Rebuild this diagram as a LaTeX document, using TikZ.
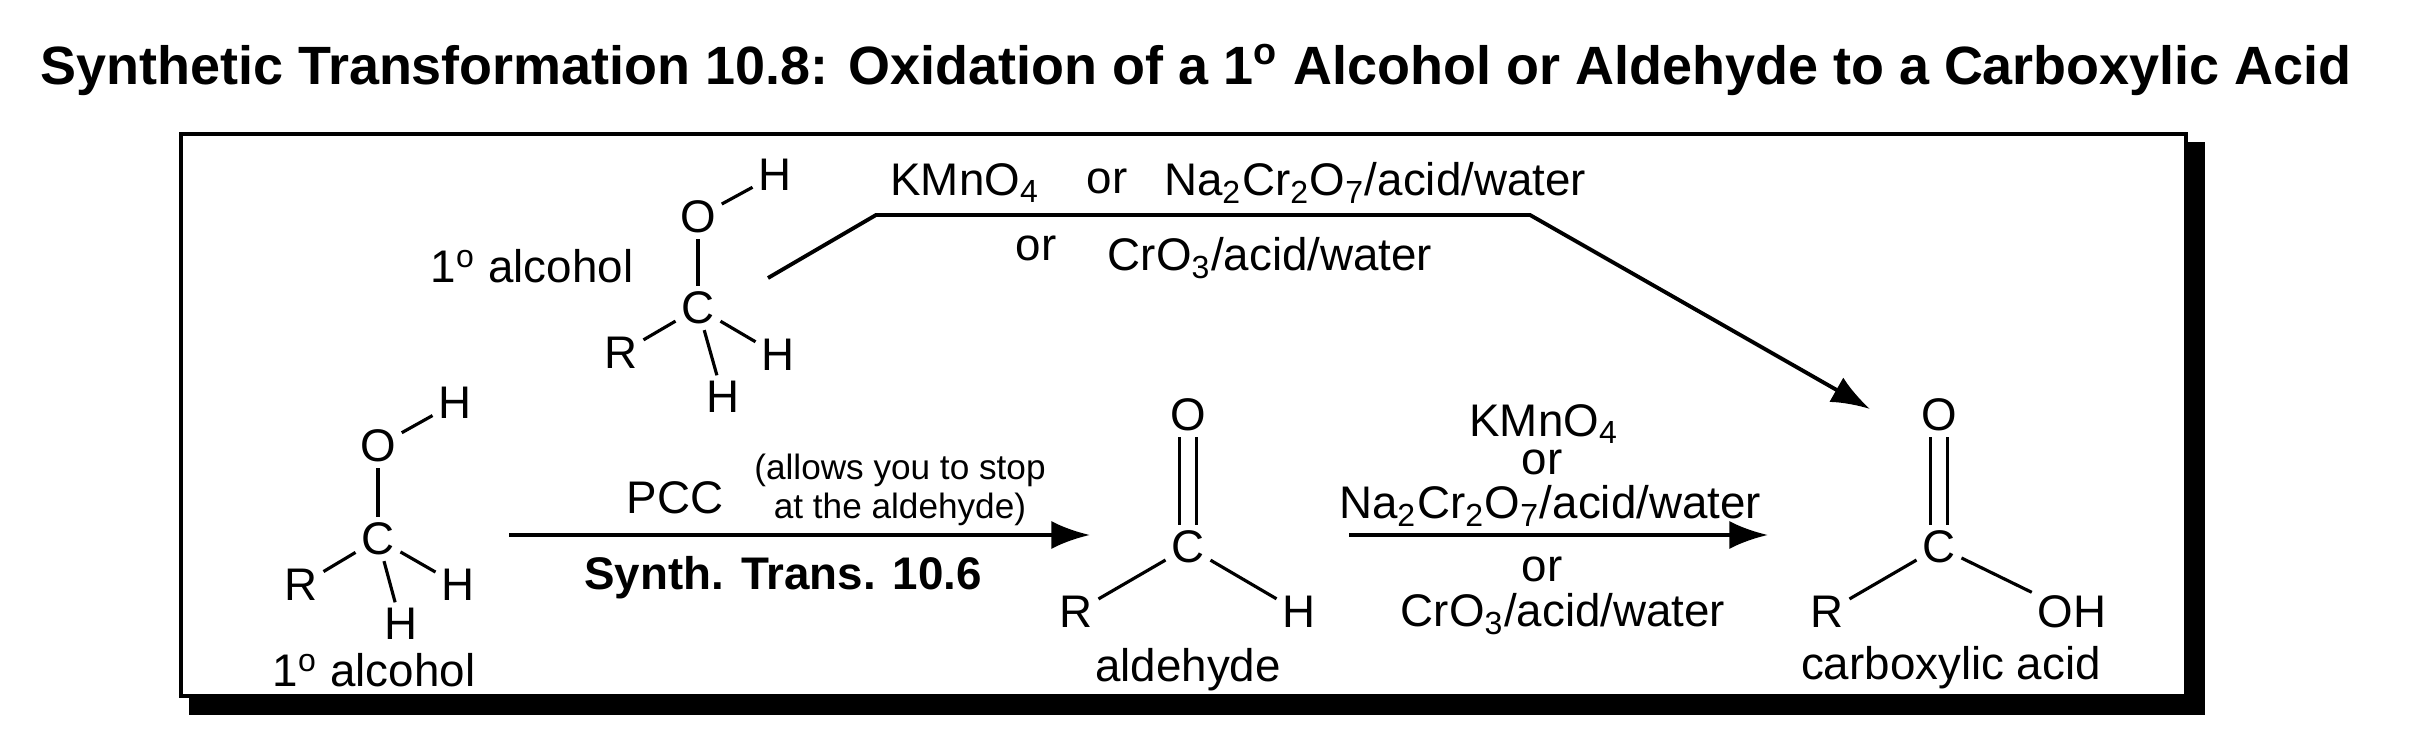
\documentclass[tikz,border=0pt]{standalone}
\usepackage{fontspec}
\setmainfont{Liberation Sans}
\usetikzlibrary{arrows.meta}
\begin{document}
\begin{tikzpicture}[x=0.01cm,y=-0.01cm,
  atom/.style={font=\fontsize{13}{14}\selectfont,inner sep=1.5pt},
  lbl/.style={font=\fontsize{13}{15}\selectfont,inner sep=1pt},
  bond/.style={line width=0.9pt},
  rxn/.style={line width=1.1pt,-{Latex[length=11pt,width=8pt]}}]
\useasboundingbox (0,0) rectangle (2420,734);
\node[font=\bfseries] (title) at (1196,70) {\resizebox{23.1cm}{!}{Synthetic Transformation 10.8: Oxidation of a 1\textsuperscript{o} Alcohol or Aldehyde to a Carboxylic Acid}};
% box with shadow
\fill (189,142) -- (2205,142) -- (2205,715) -- (189,715) -- cycle;
\draw[line width=1pt,fill=white] (181,134) rectangle (2186,696);
% top alcohol
\node[atom] (tO) at (698,217) {O};
\node[atom] (tHO) at (775,175) {H};
\node[atom] (tC) at (698,308) {C};
\node[atom] (tR) at (621,353) {R};
\node[atom] (tH1) at (778,355) {H};
\node[atom] (tH2) at (723,397) {H};
\draw[bond] (tO) -- (tHO); \draw[bond] (tO) -- (tC); \draw[bond] (tC) -- (tR);
\draw[bond] (tC) -- (tH1); \draw[bond] (tC) -- (tH2);
\node[lbl] (tlab) at (532,266) {1\textsuperscript{o} alcohol};
\coordinate (b1) at (768,278); \coordinate (b2) at (876,215); \coordinate (b3) at (1530,215);
\node[atom] (aO) at (1939,415) {O};
\node[atom] (aC) at (1939,547) {C};
\node[atom] (aR) at (1827,612) {R};
\node[atom] (aOH) at (2072,612) {OH};
\coordinate (tip) at (1870,409);
\draw[rxn] (b1) -- (b2) -- (b3) -- (tip);
\node[lbl] (k1) at (965,183) {KMnO\textsubscript{4}};
\node[lbl] (or1) at (1107,181) {or};
\node[lbl] (n1) at (1375,183) {Na\textsubscript{2}Cr\textsubscript{2}O\textsubscript{7}/acid/water};
\node[lbl] (or2) at (1036,248) {or};
\node[lbl] (c1) at (1270,258) {CrO\textsubscript{3}/acid/water};
% bottom alcohol
\node[atom] (bO) at (378,446) {O};
\node[atom] (bHO) at (455,403) {H};
\node[atom] (bC) at (378,539) {C};
\node[atom] (bR) at (301,585) {R};
\node[atom] (bH1) at (458,585) {H};
\node[atom] (bH2) at (401,624) {H};
\draw[bond] (bO) -- (bHO); \draw[bond] (bO) -- (bC); \draw[bond] (bC) -- (bR);
\draw[bond] (bC) -- (bH1); \draw[bond] (bC) -- (bH2);
\node[lbl] (blab) at (374,670) {1\textsuperscript{o} alcohol};
% PCC arrow
\coordinate (p1) at (509,535); \coordinate (p2) at (1090,535);
\draw[rxn] (p1) -- (p2);
\node[lbl] (pcc) at (675,498) {PCC};
\node[font=\fontsize{10}{11}\selectfont,align=center,inner sep=0pt] (allow) at (900,490) {(allows you to stop\\at the aldehyde)};
\node[lbl,font=\fontsize{13}{15}\selectfont\bfseries] (st) at (783,578) {Synth. Trans. 10.6};
% aldehyde
\node[atom] (dO) at (1188,415) {O};
\node[atom] (dC) at (1188,547) {C};
\node[atom] (dR) at (1076,612) {R};
\node[atom] (dH) at (1299,612) {H};
\draw[bond,transform canvas={xshift=-2.4pt}] (dO) -- (dC);
\draw[bond,transform canvas={xshift=2.4pt}] (dO) -- (dC);
\draw[bond] (dC) -- (dR); \draw[bond] (dC) -- (dH);
\node[lbl] (dlab) at (1188,670) {aldehyde};
% second arrow
\coordinate (q1) at (1349,535); \coordinate (q2) at (1768,535);
\draw[rxn] (q1) -- (q2);
\node[lbl] (k2) at (1544,424) {KMnO\textsubscript{4}};
\node[lbl] (or3) at (1542,462) {or};
\node[lbl] (n2) at (1550,506) {Na\textsubscript{2}Cr\textsubscript{2}O\textsubscript{7}/acid/water};
\node[lbl] (or4) at (1542,569) {or};
\node[lbl] (c2) at (1563,614) {CrO\textsubscript{3}/acid/water};
% acid bonds
\draw[bond,transform canvas={xshift=-2.4pt}] (aO) -- (aC);
\draw[bond,transform canvas={xshift=2.4pt}] (aO) -- (aC);
\draw[bond] (aC) -- (aR); \draw[bond] (aC) -- (aOH);
\node[lbl] (alab) at (1951,668) {carboxylic acid};
\end{tikzpicture}
\end{document}
